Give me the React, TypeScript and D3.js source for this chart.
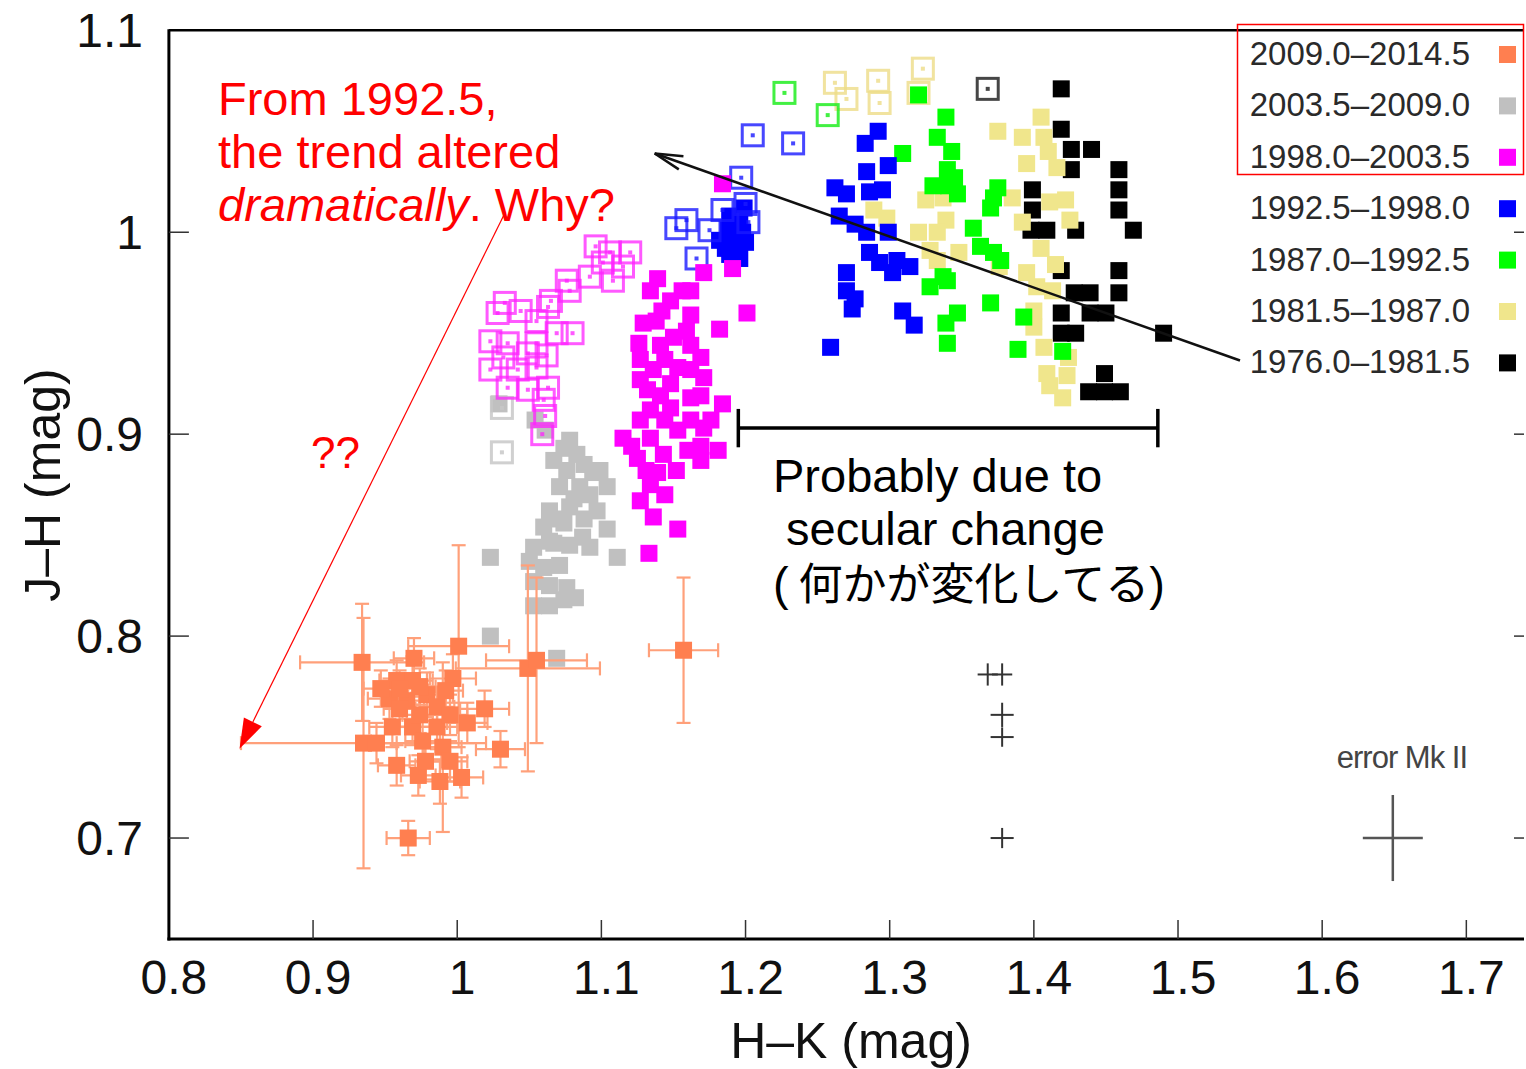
import React from "react";
import * as d3 from "d3";

const W = 1526;
const H = 1069;

const xTicks = [0.8, 0.9, 1.0, 1.1, 1.2, 1.3, 1.4, 1.5, 1.6, 1.7];
const xTickLabels = ["0.8", "0.9", "1", "1.1", "1.2", "1.3", "1.4", "1.5", "1.6", "1.7"];
const yTicks = [0.7, 0.8, 0.9, 1.0, 1.1];
const yTickLabels = ["0.7", "0.8", "0.9", "1", "1.1"];

const legendLabels = [
  "2009.0–2014.5",
  "2003.5–2009.0",
  "1998.0–2003.5",
  "1992.5–1998.0",
  "1987.0–1992.5",
  "1981.5–1987.0",
  "1976.0–1981.5",
];
const legendColors = ["#ff7f50", "#c0c0c0", "#ff00ff", "#0000ff", "#00ff00", "#f0e68c", "#000000"];

// 1976.0–1981.5
const blackFilled: [number, number][] = [
  [1.419, 1.071], [1.419, 1.051], [1.426, 1.041], [1.440, 1.041], [1.426, 1.031], [1.459, 1.031],
  [1.459, 1.021], [1.459, 1.011], [1.399, 1.021], [1.399, 1.011], [1.398, 1.001], [1.409, 1.001],
  [1.429, 1.001], [1.469, 1.001], [1.419, 0.981], [1.459, 0.981], [1.428, 0.970], [1.439, 0.970],
  [1.459, 0.970], [1.419, 0.960], [1.439, 0.960], [1.450, 0.960], [1.419, 0.950], [1.429, 0.950],
  [1.490, 0.950], [1.449, 0.930], [1.438, 0.921], [1.449, 0.921], [1.460, 0.921],
];
const blackOpen: [number, number][] = [[1.368, 1.071]];

// 1981.5–1987.0
const khakiFilled: [number, number][] = [
  [1.375, 1.050], [1.392, 1.047], [1.405, 1.057], [1.407, 1.047], [1.395, 1.034], [1.416, 1.032],
  [1.385, 1.017], [1.411, 1.015], [1.422, 1.016], [1.425, 1.006], [1.325, 1.016], [1.337, 1.017],
  [1.289, 1.011], [1.298, 1.007], [1.339, 1.006], [1.320, 1.000], [1.333, 1.000], [1.328, 0.991],
  [1.333, 0.986], [1.348, 0.990], [1.405, 0.992], [1.376, 0.983], [1.395, 0.980], [1.402, 0.973],
  [1.413, 0.971], [1.400, 0.961], [1.400, 0.953], [1.424, 0.938], [1.409, 0.930], [1.423, 0.929],
  [1.411, 0.924], [1.420, 0.918], [1.410, 1.040], [1.392, 1.005], [1.415, 0.984], [1.407, 0.943],
];
const khakiOpen: [number, number][] = [
  [1.262, 1.074], [1.270, 1.066], [1.292, 1.075], [1.293, 1.064], [1.323, 1.081], [1.320, 1.069],
];

// 1987.0–1992.5
const greenFilled: [number, number][] = [
  [1.339, 1.057], [1.333, 1.047], [1.343, 1.040], [1.309, 1.039], [1.340, 1.031], [1.341, 1.023],
  [1.330, 1.023], [1.347, 1.019], [1.375, 1.022], [1.372, 1.017], [1.370, 1.012], [1.358, 1.002],
  [1.363, 0.993], [1.372, 0.990], [1.377, 0.986], [1.337, 0.978], [1.328, 0.973], [1.370, 0.965],
  [1.347, 0.960], [1.339, 0.955], [1.340, 0.945], [1.389, 0.942], [1.420, 0.941], [1.393, 0.958],
  [1.320, 1.068], [1.345, 1.027], [1.340, 0.976],
];
const greenOpen: [number, number][] = [[1.227, 1.069], [1.257, 1.058]];

// 1992.5–1998.0
const blueFilled: [number, number][] = [
  [1.292, 1.050], [1.283, 1.044], [1.299, 1.033], [1.284, 1.030], [1.262, 1.022], [1.270, 1.019],
  [1.286, 1.020], [1.295, 1.021], [1.265, 1.008], [1.276, 1.004], [1.284, 1.000], [1.299, 1.000],
  [1.286, 0.990], [1.305, 0.986], [1.314, 0.983], [1.302, 0.980], [1.270, 0.980], [1.270, 0.971],
  [1.274, 0.962], [1.309, 0.961], [1.317, 0.954], [1.259, 0.943], [1.293, 0.985], [1.276, 0.967],
  [1.189, 1.008], [1.196, 1.007], [1.188, 1.001], [1.198, 1.000], [1.193, 0.994], [1.200, 0.995],
  [1.189, 0.989], [1.196, 0.987], [1.182, 0.996], [1.193, 1.003], [1.199, 1.012], [1.186, 0.992],
];
const blueOpen: [number, number][] = [
  [1.205, 1.048], [1.233, 1.044], [1.197, 1.027], [1.200, 1.014], [1.184, 1.011], [1.202, 1.005],
  [1.159, 1.006], [1.152, 1.002], [1.175, 1.001], [1.166, 0.987],
];

// 1998.0–2003.5
const magentaFilled: [number, number][] = [
  [1.139, 0.977], [1.156, 0.971], [1.129, 0.955], [1.126, 0.945], [1.142, 0.961], [1.150, 0.948],
  [1.162, 0.959], [1.182, 0.952], [1.201, 0.960], [1.136, 0.932], [1.153, 0.933], [1.169, 0.938],
  [1.132, 0.922], [1.148, 0.925], [1.171, 0.928], [1.184, 0.915], [1.134, 0.912], [1.148, 0.913],
  [1.162, 0.918], [1.115, 0.898], [1.134, 0.898], [1.153, 0.902], [1.171, 0.903], [1.181, 0.892],
  [1.125, 0.888], [1.143, 0.890], [1.160, 0.892], [1.139, 0.881], [1.127, 0.867], [1.136, 0.859],
  [1.153, 0.853], [1.133, 0.841], [1.184, 1.024], [1.191, 0.982], [1.171, 0.980],
  [1.134, 0.971], [1.148, 0.966], [1.162, 0.971], [1.138, 0.956], [1.159, 0.951], [1.141, 0.944],
  [1.162, 0.944], [1.127, 0.937], [1.144, 0.937], [1.162, 0.932], [1.127, 0.927], [1.141, 0.919],
  [1.169, 0.919], [1.127, 0.907], [1.144, 0.907], [1.162, 0.907], [1.176, 0.907], [1.121, 0.894],
  [1.169, 0.894], [1.131, 0.882], [1.152, 0.882], [1.134, 0.875], [1.144, 0.870], [1.169, 0.887],
];
const magentaOpen: [number, number][] = [
  [1.096, 0.993], [1.106, 0.990], [1.120, 0.990], [1.101, 0.985], [1.115, 0.983], [1.092, 0.978],
  [1.108, 0.976], [1.076, 0.976], [1.078, 0.971], [1.065, 0.966], [1.063, 0.963], [1.033, 0.965],
  [1.028, 0.960], [1.044, 0.961], [1.055, 0.956], [1.080, 0.950], [1.069, 0.950], [1.023, 0.946],
  [1.035, 0.945], [1.055, 0.945], [1.032, 0.938], [1.049, 0.940], [1.062, 0.939], [1.023, 0.932],
  [1.042, 0.932], [1.055, 0.933], [1.035, 0.923], [1.049, 0.922], [1.063, 0.923], [1.060, 0.917],
  [1.061, 0.909], [1.059, 0.900],
];

// 2003.5–2009.0
const grayFilled: [number, number][] = [
  [1.074, 0.893], [1.083, 0.890], [1.067, 0.887], [1.076, 0.882], [1.094, 0.881], [1.104, 0.874],
  [1.071, 0.874], [1.085, 0.874], [1.064, 0.862], [1.078, 0.864], [1.097, 0.862], [1.060, 0.854],
  [1.074, 0.856], [1.104, 0.853], [1.053, 0.844], [1.067, 0.846], [1.087, 0.849], [1.092, 0.844],
  [1.111, 0.839], [1.023, 0.839], [1.060, 0.834], [1.053, 0.827], [1.076, 0.824], [1.082, 0.819],
  [1.053, 0.815], [1.064, 0.815], [1.023, 0.800], [1.069, 0.789], [1.029, 0.915], [1.054, 0.907],
  [1.061, 0.902], [1.078, 0.897], [1.088, 0.885], [1.099, 0.882], [1.081, 0.868], [1.092, 0.870],
  [1.071, 0.858], [1.088, 0.858], [1.064, 0.847], [1.078, 0.845], [1.050, 0.837], [1.071, 0.835],
  [1.064, 0.825], [1.074, 0.818],
];
const grayOpen: [number, number][] = [[1.031, 0.913], [1.031, 0.891]];

// 2009.0–2014.5 : [x, y, xerr, yerr]
const orangePoints: [number, number, number, number][] = [
  [0.934, 0.787, 0.043, 0.029], [0.935, 0.747, 0.085, 0.062], [1.001, 0.795, 0.035, 0.050],
  [1.049, 0.784, 0.050, 0.051], [1.055, 0.788, 0.035, 0.041], [0.970, 0.789, 0.014, 0.010],
  [0.958, 0.778, 0.012, 0.010], [0.969, 0.778, 0.014, 0.012], [0.997, 0.779, 0.016, 0.012],
  [0.953, 0.769, 0.015, 0.010], [0.965, 0.768, 0.012, 0.009], [0.979, 0.771, 0.013, 0.011],
  [0.986, 0.765, 0.012, 0.010], [1.019, 0.764, 0.017, 0.009], [1.007, 0.757, 0.014, 0.010],
  [0.955, 0.755, 0.016, 0.010], [0.969, 0.755, 0.012, 0.009], [0.986, 0.755, 0.014, 0.011],
  [0.976, 0.748, 0.012, 0.010], [0.944, 0.747, 0.014, 0.010], [0.990, 0.745, 0.013, 0.042],
  [1.030, 0.744, 0.017, 0.009], [0.958, 0.736, 0.013, 0.010], [0.973, 0.731, 0.012, 0.010],
  [0.988, 0.728, 0.014, 0.011], [1.003, 0.730, 0.015, 0.010], [0.966, 0.700, 0.015, 0.0085],
  [1.157, 0.793, 0.024, 0.036], [0.960, 0.774, 0.012, 0.009], [0.974, 0.775, 0.011, 0.009],
  [0.992, 0.773, 0.012, 0.010], [0.960, 0.764, 0.011, 0.009], [0.974, 0.761, 0.012, 0.009],
  [0.995, 0.761, 0.012, 0.010], [0.978, 0.738, 0.011, 0.009], [0.995, 0.738, 0.012, 0.010],
  [0.947, 0.774, 0.012, 0.009],
];

// typical error crosses: [x, y, xerr, yerr]
const errorCrosses: [number, number, number, number][] = [
  [1.368, 0.781, 0.007, 0.0055], [1.378, 0.781, 0.007, 0.0055], [1.378, 0.761, 0.008, 0.006],
  [1.378, 0.750, 0.008, 0.0048], [1.378, 0.700, 0.008, 0.005],
];
const errorMk2: [number, number, number, number] = [1.649, 0.700, 0.0208, 0.0213];

// annotation geometry (data units)
const blackArrow = { from: [1.543, 0.9365], to: [1.137, 1.039] };
const redArrow = { from: [1.033, 1.0094], to: [0.849, 0.7442] };
const bracket = { x0: 1.195, x1: 1.486, y: 0.903, h: 0.0095 };

const FONT = "'Liberation Sans', Arial, sans-serif";

export default function App() {
  React.useEffect(() => {
    document.body.style.margin = "0";
  }, []);

  const x = d3.scaleLinear().domain([0.8, 1.74]).range([168.9, 1524]);
  const y = d3.scaleLinear().domain([0.65, 1.1]).range([939, 30.3]);

  const FS = 17;
  const OS = 21;

  const filled = (pts: [number, number][], color: string, key: string) =>
    pts.map((p, i) => (
      <rect key={key + i} x={x(p[0]) - FS / 2} y={y(p[1]) - FS / 2} width={FS} height={FS} fill={color} />
    ));
  const open = (pts: [number, number][], color: string, key: string, op = 0.85) =>
    pts.map((p, i) => (
      <g key={key + i} opacity={op}>
        <rect x={x(p[0]) - OS / 2} y={y(p[1]) - OS / 2} width={OS} height={OS} fill="none" stroke={color} strokeWidth={3} />
        <rect x={x(p[0]) - 2} y={y(p[1]) - 2} width={4} height={4} fill={color} />
      </g>
    ));

  const arrowHead = (fx: number, fy: number, tx: number, ty: number, len: number, half: number) => {
    const ang = Math.atan2(ty - fy, tx - fx);
    const bx = tx - len * Math.cos(ang);
    const by = ty - len * Math.sin(ang);
    const px = -Math.sin(ang) * half;
    const py = Math.cos(ang) * half;
    return { tip: [tx, ty], a: [bx + px, by + py], b: [bx - px, by - py] };
  };

  const ba = {
    fx: x(blackArrow.from[0]), fy: y(blackArrow.from[1]),
    tx: x(blackArrow.to[0]), ty: y(blackArrow.to[1]),
  };
  const bh = arrowHead(ba.fx, ba.fy, ba.tx, ba.ty, 28, 7);
  const ra = {
    fx: x(redArrow.from[0]), fy: y(redArrow.from[1]),
    tx: x(redArrow.to[0]), ty: y(redArrow.to[1]),
  };
  const rh = arrowHead(ra.fx, ra.fy, ra.tx, ra.ty, 30, 10);

  const errColor = "#ffa07a";
  const cap = 7;

  const x0 = x(0.8), x1 = x(1.74), yTop = y(1.1), yBot = y(0.65);

  return (
    <div style={{ position: "absolute", left: 0, top: 0 }}>
      <svg width={W} height={H} viewBox={`0 0 ${W} ${H}`} style={{ display: "block", background: "#fff" }}>
        <rect x={0} y={0} width={W} height={H} fill="#fff" />

        {/* data */}
        {filled(blackFilled, "#000", "bf")}
        {open(blackOpen, "#333", "bo", 0.9)}
        {filled(khakiFilled, "#f0e68c", "kf")}
        {open(khakiOpen, "#eedd88", "ko", 0.8)}
        {filled(greenFilled, "#00ff00", "gf")}
        {open(greenOpen, "#22ee22", "go", 0.85)}
        {filled(blueFilled, "#0000ff", "uf")}
        {open(blueOpen, "#1a1aff", "uo", 0.8)}
        {filled(grayFilled, "#c0c0c0", "af")}
        {open(grayOpen, "#c8c8c8", "ao", 0.85)}
        {filled(magentaFilled, "#ff00ff", "mf")}
        {open(magentaOpen, "#ff22ff", "mo", 0.75)}

        {/* orange error bars */}
        {orangePoints.map((p, i) => {
          const cx = x(p[0]), cy = y(p[1]);
          const xl = x(p[0] - p[2]), xr = x(p[0] + p[2]);
          const yt = y(p[1] + p[3]), yb = y(p[1] - p[3]);
          return (
            <g key={"oe" + i} stroke={errColor} strokeWidth={2.2}>
              <line x1={xl} y1={cy} x2={xr} y2={cy} />
              <line x1={xl} y1={cy - cap} x2={xl} y2={cy + cap} />
              <line x1={xr} y1={cy - cap} x2={xr} y2={cy + cap} />
              <line x1={cx} y1={yt} x2={cx} y2={yb} />
              <line x1={cx - cap} y1={yt} x2={cx + cap} y2={yt} />
              <line x1={cx - cap} y1={yb} x2={cx + cap} y2={yb} />
            </g>
          );
        })}
        {orangePoints.map((p, i) => (
          <rect key={"of" + i} x={x(p[0]) - FS / 2} y={y(p[1]) - FS / 2} width={FS} height={FS} fill="#ff7f50" />
        ))}

        {/* typical error crosses */}
        {errorCrosses.map((c, i) => (
          <g key={"ec" + i} stroke="#333" strokeWidth={2}>
            <line x1={x(c[0] - c[2])} y1={y(c[1])} x2={x(c[0] + c[2])} y2={y(c[1])} />
            <line x1={x(c[0])} y1={y(c[1] + c[3])} x2={x(c[0])} y2={y(c[1] - c[3])} />
          </g>
        ))}
        <g stroke="#555" strokeWidth={2.5}>
          <line x1={x(errorMk2[0] - errorMk2[2])} y1={y(errorMk2[1])} x2={x(errorMk2[0] + errorMk2[2])} y2={y(errorMk2[1])} />
          <line x1={x(errorMk2[0])} y1={y(errorMk2[1] + errorMk2[3])} x2={x(errorMk2[0])} y2={y(errorMk2[1] - errorMk2[3])} />
        </g>
        <text x={1467} y={768} fontFamily={FONT} fontSize={31} fill="#444" textAnchor="end" letterSpacing={-1}>
          error Mk II
        </text>

        {/* frame */}
        <g stroke="#000" fill="none">
          <line x1={x0} y1={yTop} x2={x1} y2={yTop} strokeWidth={2.5} />
          <line x1={x0} y1={yTop - 1} x2={x0} y2={yBot + 1.5} strokeWidth={3} />
          <line x1={x0 - 1.5} y1={yBot} x2={x1} y2={yBot} strokeWidth={3} />
        </g>
        {xTicks.slice(1).map((t, i) => (
          <line key={"xt" + i} x1={x(t)} y1={yBot} x2={x(t)} y2={yBot - 19} stroke="#333" strokeWidth={1.5} />
        ))}
        {yTicks.slice(0, -1).map((t, i) => (
          <g key={"yt" + i} stroke="#333" strokeWidth={1.5}>
            <line x1={x0} y1={y(t)} x2={x0 + 20} y2={y(t)} />
            <line x1={x1} y1={y(t)} x2={x1 - 10} y2={y(t)} />
          </g>
        ))}
        {xTicks.map((t, i) => (
          <text key={"xl" + i} x={x(t) + 5} y={994} fontFamily={FONT} fontSize={48} textAnchor="middle" fill="#111">
            {xTickLabels[i]}
          </text>
        ))}
        {yTicks.map((t, i) => (
          <text key={"yl" + i} x={143} y={y(t) + 17} fontFamily={FONT} fontSize={48} textAnchor="end" fill="#111">
            {yTickLabels[i]}
          </text>
        ))}
        <text x={851} y={1058} fontFamily={FONT} fontSize={50} textAnchor="middle" fill="#111">
          H–K (mag)
        </text>
        <text
          transform={`translate(60, 485) rotate(-90)`}
          fontFamily={FONT}
          fontSize={50}
          textAnchor="middle"
          fill="#111"
        >
          J–H (mag)
        </text>

        {/* legend */}
        {legendLabels.map((l, i) => {
          const ly = 54 + i * 51.4;
          return (
            <g key={"lg" + i}>
              <text x={1470} y={ly + 11} fontFamily={FONT} fontSize={33} textAnchor="end" fill="#2a2a2a">
                {l}
              </text>
              <rect x={1499} y={ly - 8} width={17} height={17} fill={legendColors[i]} />
            </g>
          );
        })}
        <rect x={1237.5} y={24.5} width={286} height={150} fill="none" stroke="#ff0000" strokeWidth={1.5} />

        {/* black arrow */}
        <line x1={ba.fx} y1={ba.fy} x2={ba.tx} y2={ba.ty} stroke="#111" strokeWidth={2.5} />
        <polyline
          points={`${bh.a[0]},${bh.a[1]} ${bh.tip[0]},${bh.tip[1]} ${bh.b[0]},${bh.b[1]}`}
          fill="none"
          stroke="#111"
          strokeWidth={2.5}
        />

        {/* bracket */}
        <g stroke="#000" strokeWidth={3.5}>
          <line x1={x(bracket.x0)} y1={y(bracket.y)} x2={x(bracket.x1)} y2={y(bracket.y)} />
          <line x1={x(bracket.x0)} y1={y(bracket.y + bracket.h)} x2={x(bracket.x0)} y2={y(bracket.y - bracket.h)} />
          <line x1={x(bracket.x1)} y1={y(bracket.y + bracket.h)} x2={x(bracket.x1)} y2={y(bracket.y - bracket.h)} />
        </g>

        {/* red arrow */}
        <line x1={ra.fx} y1={ra.fy} x2={rh.a[0] + (rh.b[0] - rh.a[0]) / 2} y2={rh.a[1] + (rh.b[1] - rh.a[1]) / 2} stroke="#ff0000" strokeWidth={1.2} />
        <polygon points={`${rh.a[0]},${rh.a[1]} ${rh.tip[0]},${rh.tip[1]} ${rh.b[0]},${rh.b[1]}`} fill="#ff0000" />

        {/* annotations */}
        <g fontFamily={FONT} fontSize={47} fill="#ff0000">
          <text x={218} y={115}>From 1992.5,</text>
          <text x={218} y={168}>the trend altered</text>
          <text x={218} y={221}>
            <tspan fontStyle="italic">dramatically</tspan>. Why?
          </text>
          <text x={311} y={468} fontSize={44}>??</text>
        </g>
        <g fontFamily={FONT} fontSize={47} fill="#000">
          <text x={773} y={492}>Probably due to</text>
          <text x={786} y={545}>secular change</text>
          <text x={773} y={600}>
            (<tspan fontFamily="'Noto Sans CJK JP', sans-serif" fontSize={44}> 何かが変化してる</tspan>)
          </text>
        </g>
      </svg>
    </div>
  );
}
